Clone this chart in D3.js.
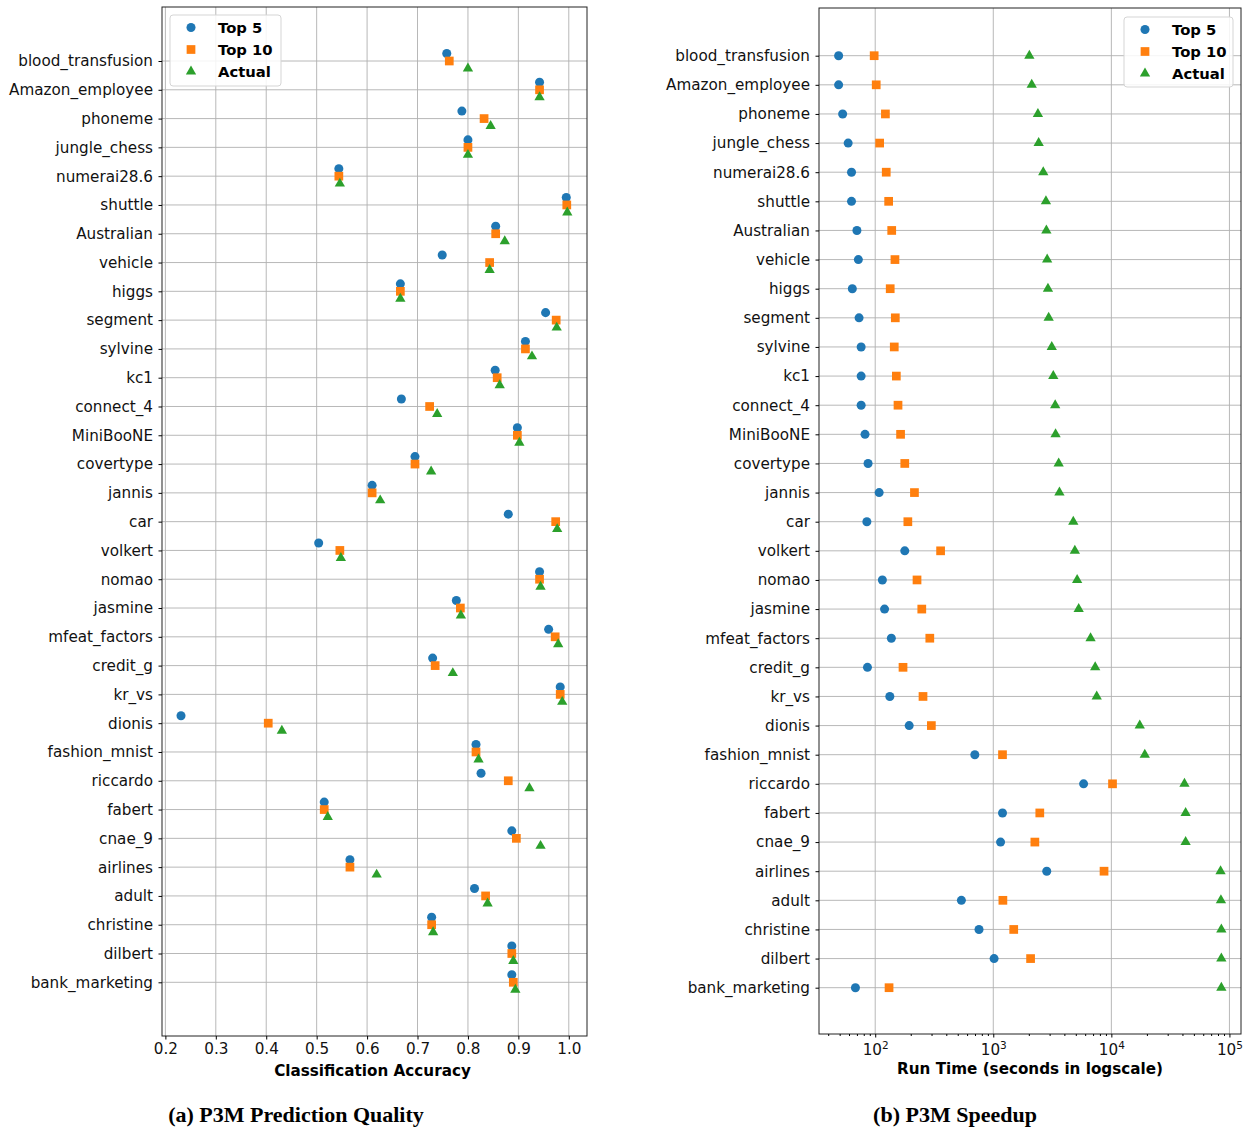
<!DOCTYPE html>
<html>
<head>
<meta charset="utf-8">
<script src="https://cdn.jsdelivr.net/npm/d3@7"></script>
<style>
  body { margin: 0; background: #fff; }
  svg { display: block; }
</style>
</head>
<body>
<div id="chart"></div>
<script>
// datasets, top to bottom
const categories = ['blood_transfusion', 'Amazon_employee', 'phoneme', 'jungle_chess', 'numerai28.6',
  'shuttle', 'Australian', 'vehicle', 'higgs', 'segment', 'sylvine', 'kc1', 'connect_4', 'MiniBooNE',
  'covertype', 'jannis', 'car', 'volkert', 'nomao', 'jasmine', 'mfeat_factors', 'credit_g', 'kr_vs',
  'dionis', 'fashion_mnist', 'riccardo', 'fabert', 'cnae_9', 'airlines', 'adult', 'christine',
  'dilbert', 'bank_marketing'];

// (a) classification accuracy
const top5Acc = [0.758, 0.942, 0.788, 0.800, 0.544, 0.995, 0.855, 0.749, 0.666, 0.954, 0.914, 0.854,
  0.668, 0.898, 0.695, 0.610, 0.880, 0.504, 0.942, 0.777, 0.960, 0.730, 0.983, 0.231, 0.816, 0.826,
  0.515, 0.887, 0.566, 0.813, 0.728, 0.887, 0.887];
const top10Acc = [0.763, 0.942, 0.832, 0.800, 0.544, 0.996, 0.855, 0.843, 0.666, 0.975, 0.914, 0.858,
  0.724, 0.898, 0.695, 0.610, 0.974, 0.546, 0.942, 0.785, 0.973, 0.735, 0.983, 0.404, 0.816, 0.880,
  0.515, 0.896, 0.566, 0.835, 0.728, 0.887, 0.890];
const actualAcc = [0.800, 0.942, 0.845, 0.800, 0.546, 0.997, 0.873, 0.843, 0.666, 0.976, 0.927, 0.863,
  0.739, 0.902, 0.727, 0.626, 0.977, 0.548, 0.944, 0.786, 0.979, 0.770, 0.987, 0.431, 0.821, 0.922,
  0.522, 0.944, 0.619, 0.839, 0.731, 0.890, 0.894];

// (b) run time in seconds
const top5Time = [49, 49, 53, 59, 63, 63, 70, 72, 64, 73, 76, 76, 76, 82, 87, 108, 85, 178, 115, 120,
  137, 86, 133, 194, 698, 5820, 1197, 1153, 2837, 537, 757, 1016, 68];
const top10Time = [98, 102, 122, 109, 124, 130, 138, 147, 134, 148, 145, 151, 156, 164, 178, 215, 189,
  358, 226, 248, 290, 172, 254, 299, 1197, 10230, 2477, 2250, 8670, 1206, 1490, 2070, 131];
const actualTime = [2020, 2117, 2388, 2423, 2650, 2792, 2816, 2860, 2904, 2946, 3128, 3222, 3345, 3370,
  3580, 3633, 4762, 4908, 5132, 5288, 6668, 7295, 7518, 17400, 19200, 41600, 42560, 42560, 84100,
  84700, 85400, 85400, 85400];

const seriesNames = ['Top 5', 'Top 10', 'Actual'];
const seriesColors = ['#1f77b4', '#ff7f0e', '#2ca02c'];
const accTicks = [0.2, 0.3, 0.4, 0.5, 0.6, 0.7, 0.8, 0.9, 1.0];
const timeTicks = [1e2, 1e3, 1e4, 1e5];

const W = 1243, H = 1131;
const FONT = 'DejaVu Sans';
const TICK_FS = '15.2px';

const svg = d3.select('#chart').append('svg')
  .attr('width', W)
  .attr('height', H)
  .style('font-family', FONT);

const symbols = [d3.symbolCircle, d3.symbolSquare, d3.symbolTriangle];
const symbolSizes = [64, 76, 46];

function drawLegend(g, x, y, w, h) {
  g.append('rect')
    .attr('x', x).attr('y', y).attr('width', w).attr('height', h)
    .attr('rx', 3)
    .style('fill', '#fff').style('fill-opacity', 0.85)
    .style('stroke', '#d5d5d5');
  seriesNames.forEach((name, i) => {
    const cy = y + 12.5 + i * 22;
    g.append('path')
      .attr('d', d3.symbol().type(symbols[i]).size(symbolSizes[i])())
      .attr('transform', `translate(${x + 21},${cy})`)
      .style('fill', seriesColors[i]);
    g.append('text')
      .attr('x', x + 48).attr('y', cy)
      .attr('dy', '0.36em')
      .style('font-size', '14.8px')
      .style('font-weight', 'bold')
      .text(name);
  });
}

function drawPanel(opt) {
  const g = svg.append('g');
  const { x, y, left, right, top, bottom } = opt;

  // grid
  g.selectAll('.vgrid').data(opt.ticks).join('line')
    .attr('x1', d => x(d)).attr('x2', d => x(d))
    .attr('y1', top).attr('y2', bottom)
    .style('stroke', '#b0b0b0').style('stroke-width', 0.9);
  g.selectAll('.hgrid').data(categories).join('line')
    .attr('x1', left).attr('x2', right)
    .attr('y1', d => y(d)).attr('y2', d => y(d))
    .style('stroke', '#b0b0b0').style('stroke-width', 0.9);

  // points
  opt.series.forEach((vals, i) => {
    g.selectAll(null).data(categories).join('path')
      .attr('d', d3.symbol().type(symbols[i]).size(symbolSizes[i])())
      .attr('transform', (c, j) => `translate(${x(vals[j])},${y(c) + opt.offsets[i]})`)
      .style('fill', seriesColors[i]);
  });

  // frame
  g.append('rect')
    .attr('x', left).attr('y', top)
    .attr('width', right - left).attr('height', bottom - top)
    .style('fill', 'none').style('stroke', '#222').style('stroke-width', 1);

  // y axis
  const yAxis = d3.axisLeft(y).tickSize(3.5).tickPadding(5.5);
  const ya = g.append('g').attr('transform', `translate(${left},0)`).call(yAxis);
  ya.select('.domain').remove();
  ya.selectAll('text').style('font-size', TICK_FS).style('font-family', FONT).attr('fill', '#111');

  // x axis
  const xa = g.append('g').attr('transform', `translate(0,${bottom})`);
  if (opt.log) {
    const minor = [];
    for (let e = 1; e <= 5; e++) for (let k = 2; k <= 9; k++) {
      const v = k * Math.pow(10, e);
      if (v >= x.domain()[0] && v <= x.domain()[1]) minor.push(v);
    }
    xa.call(d3.axisBottom(x).tickValues(minor).tickSize(2).tickFormat(''));
    const major = g.append('g').attr('transform', `translate(0,${bottom})`)
      .call(d3.axisBottom(x).tickValues(opt.ticks).tickSize(3.5).tickPadding(3.5).tickFormat(''));
    major.select('.domain').remove();
    major.selectAll('.tick').each(function (d) {
      const t = d3.select(this).append('text')
        .attr('y', 21).attr('fill', '#111')
        .style('font-size', TICK_FS).style('font-family', FONT)
        .attr('text-anchor', 'middle');
      t.append('tspan').text('10');
      t.append('tspan').attr('dy', -6).style('font-size', '10.5px').text(Math.round(Math.log10(d)));
    });
  } else {
    xa.call(d3.axisBottom(x).tickValues(opt.ticks).tickSize(3.5).tickPadding(3.5).tickFormat(d3.format('.1f')));
    xa.selectAll('text').style('font-size', TICK_FS).style('font-family', FONT).attr('fill', '#111');
  }
  xa.select('.domain').remove();

  g.append('text')
    .attr('x', (left + right) / 2 + opt.labelShift).attr('y', bottom + 40)
    .attr('text-anchor', 'middle')
    .style('font-size', '15.2px').style('font-weight', 'bold')
    .text(opt.xLabel);

  g.append('text')
    .attr('x', opt.captionX).attr('y', 1122)
    .attr('text-anchor', 'middle')
    .style('font-family', 'Liberation Serif')
    .style('font-size', '22px').style('font-weight', 'bold')
    .text(opt.caption);

  drawLegend(g, ...opt.legend);
}

// (a) accuracy panel
const xAcc = d3.scaleLinear().domain([0.1933, 1.0361]).range([162, 587]);
const yAcc = d3.scalePoint().domain(categories).range([61, 982.3]);
const accStep = yAcc.step();
drawPanel({
  x: xAcc, y: yAcc, left: 162, right: 587, top: 7, bottom: 1036,
  ticks: accTicks, log: false,
  series: [top5Acc, top10Acc, actualAcc],
  offsets: [-0.26 * accStep, 0, 0.26 * accStep],
  xLabel: 'Classification Accuracy', labelShift: -2,
  caption: '(a) P3M Prediction Quality', captionX: 296,
  legend: [170, 15, 111, 71]
});

// (b) run time panel
const xTime = d3.scaleLog().domain([Math.pow(10, 1.524), Math.pow(10, 5.098)]).range([819, 1241]);
const yTime = d3.scalePoint().domain(categories).range([55.7, 987.7]);
drawPanel({
  x: xTime, y: yTime, left: 819, right: 1241, top: 8, bottom: 1034,
  ticks: timeTicks, log: true,
  series: [top5Time, top10Time, actualTime],
  offsets: [0, 0, 0],
  xLabel: 'Run Time (seconds in logscale)', labelShift: 0,
  caption: '(b) P3M Speedup', captionX: 955,
  legend: [1124, 17, 109, 70]
});
</script>
</body>
</html>
